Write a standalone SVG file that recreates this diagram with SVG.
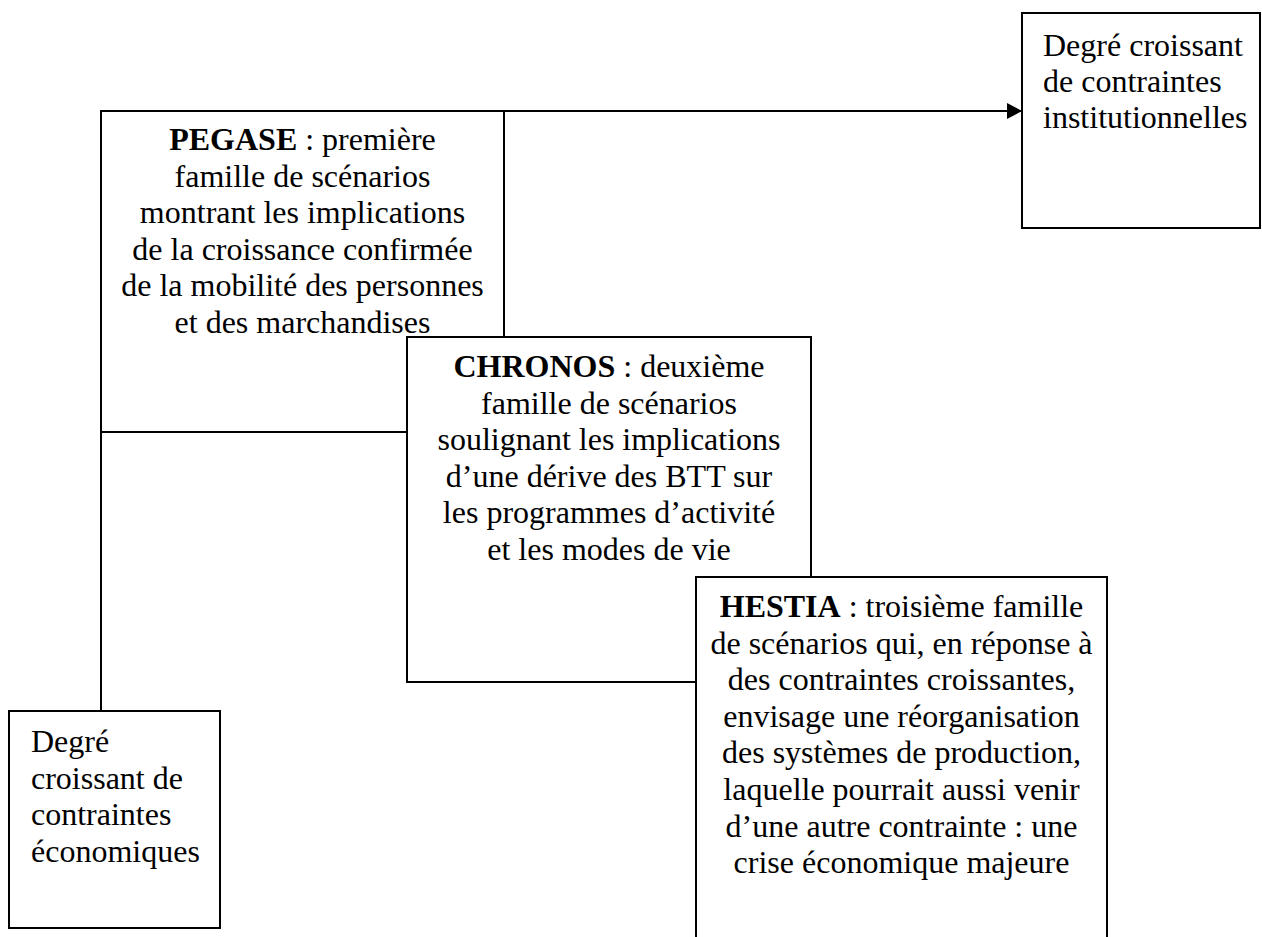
<svg xmlns="http://www.w3.org/2000/svg" width="1262" height="937" viewBox="0 0 1262 937">
<style>
.box{fill:#fff;stroke:#000;stroke-width:2}
.ln{fill:none;stroke:#000;stroke-width:2}
text{font-family:"Liberation Serif","Times New Roman",serif;font-size:32px;fill:#000}
.c{text-anchor:middle}
.b{font-weight:bold}
</style>
<defs>
<marker id="arr" markerUnits="userSpaceOnUse" markerWidth="16" markerHeight="16" refX="15" refY="8" orient="auto">
<path d="M0,0 L15,8 L0,16 Z" fill="#000"/>
</marker>
</defs>
<rect width="1262" height="937" fill="#fff"/>
<g id="pegase">
<rect class="box" x="101" y="111" width="403" height="321"/>
<text class="c"><tspan x="302.5" y="150"><tspan class="b">PEGASE</tspan> : première</tspan><tspan x="302.5" y="186.6">famille de scénarios</tspan><tspan x="302.5" y="223.2">montrant les implications</tspan><tspan x="302.5" y="259.8">de la croissance confirmée</tspan><tspan x="302.5" y="296.4">de la mobilité des personnes</tspan><tspan x="302.5" y="333">et des marchandises</tspan></text>
</g>
<g id="connectors">
<line class="ln" x1="504" y1="111" x2="1022" y2="111" marker-end="url(#arr)"/>
<line class="ln" x1="101" y1="432" x2="101" y2="711"/>
</g>
<g id="chronos">
<rect class="box" x="407" y="337" width="404" height="345"/>
<text class="c"><tspan x="609" y="377"><tspan class="b">CHRONOS</tspan> : deuxième</tspan><tspan x="609" y="413.6">famille de scénarios</tspan><tspan x="609" y="450.2">soulignant les implications</tspan><tspan x="609" y="486.8">d’une dérive des BTT sur</tspan><tspan x="609" y="523.4">les programmes d’activité</tspan><tspan x="609" y="560">et les modes de vie</tspan></text>
</g>
<g id="hestia">
<rect class="box" x="696" y="577" width="411" height="380"/>
<text class="c"><tspan x="901.5" y="617"><tspan class="b">HESTIA</tspan> : troisième famille</tspan><tspan x="901.5" y="653.6">de scénarios qui, en réponse à</tspan><tspan x="901.5" y="690.2">des contraintes croissantes,</tspan><tspan x="901.5" y="726.8">envisage une réorganisation</tspan><tspan x="901.5" y="763.4">des systèmes de production,</tspan><tspan x="901.5" y="800">laquelle pourrait aussi venir</tspan><tspan x="901.5" y="836.6">d’une autre contrainte : une</tspan><tspan x="901.5" y="873.2">crise économique majeure</tspan></text>
</g>
<g id="institutionnelles">
<rect class="box" x="1022" y="13" width="238" height="215"/>
<text><tspan x="1043" y="56">Degré croissant</tspan><tspan x="1043" y="92">de contraintes</tspan><tspan x="1043" y="128">institutionnelles</tspan></text>
</g>
<g id="economiques">
<rect class="box" x="9" y="711" width="211" height="217"/>
<text><tspan x="31" y="752">Degré</tspan><tspan x="31" y="788.6">croissant de</tspan><tspan x="31" y="825.2">contraintes</tspan><tspan x="31" y="861.8">économiques</tspan></text>
</g>
</svg>
